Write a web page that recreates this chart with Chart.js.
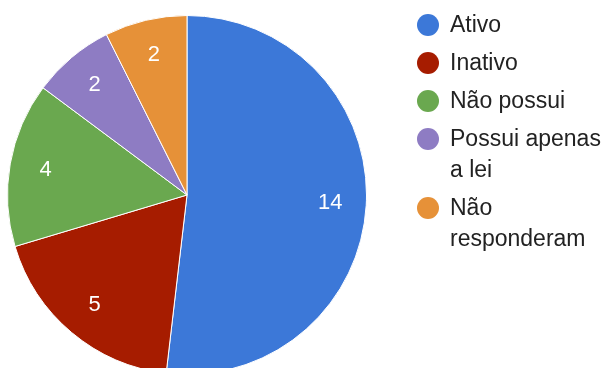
<!DOCTYPE html>
<html>
<head>
<meta charset="UTF-8">
<title>Situação</title>
<style>
  body { margin: 0; width: 606px; height: 368px; overflow: hidden; background: #fff; font-family: Arial, "Liberation Sans", sans-serif; }
  .chartBox { position: absolute; left: 0; top: 0; width: 606px; height: 390px; }
  #legenda { position: absolute; left: 417px; top: 9px; list-style: none; margin: 0; padding: 0; }
  #legenda li { position: relative; padding-left: 33px; font-size: 23px; line-height: 31px; color: #222; margin-bottom: 7px; width: 156px; }
  #legenda li span { position: absolute; left: 0; top: 4.5px; width: 22px; height: 22px; border-radius: 50%; }
</style>
</head>
<body>
  <div class="chartBox"><canvas id="myChart"></canvas></div>
  <ul id="legenda"></ul>

  <script src="https://cdn.jsdelivr.net/npm/chart.js"></script>
  <script>
// dados
const categorias = ['Ativo', 'Inativo', 'Não possui', 'Possui apenas a lei', 'Não responderam'];
const respostas = [14, 5, 4, 2, 2];
const cores = ['#3c78d8', '#a61c00', '#6aa84f', '#8e7cc3', '#e69138'];

// numeros dentro das fatias
const rotulos = {
  id: 'rotulos',
  afterDatasetsDraw(chart) {
    const ctx = chart.ctx;
    const meta = chart.getDatasetMeta(0);
    ctx.save();
    ctx.fillStyle = '#fff';
    ctx.font = '22px Arial, "Liberation Sans", sans-serif';
    ctx.textAlign = 'center';
    ctx.textBaseline = 'middle';
    meta.data.forEach((arc, i) => {
      const p = arc.getProps(['x', 'y', 'startAngle', 'endAngle', 'outerRadius'], true);
      const meio = (p.startAngle + p.endAngle) / 2;
      const r = p.outerRadius * 0.8;
      ctx.fillText(respostas[i], p.x + Math.cos(meio) * r, p.y + Math.sin(meio) * r);
    });
    ctx.restore();
  }
};

const myChart = new Chart(document.getElementById('myChart'), {
  type: 'pie',
  data: {
    labels: categorias,
    datasets: [{
      data: respostas,
      backgroundColor: cores,
      borderColor: '#fff',
      borderWidth: 1
    }]
  },
  options: {
    responsive: true,
    maintainAspectRatio: false,
    animation: false,
    layout: { padding: { left: 7, right: 239, top: 15, bottom: 15 } },
    plugins: { legend: { display: false }, tooltip: { enabled: false } }
  },
  plugins: [rotulos]
});

// legenda em html
let html = '';
categorias.forEach((c, i) => {
  html += `<li><span style="background:${cores[i]}"></span>${c}</li>`;
});
document.getElementById('legenda').innerHTML = html;
  </script>
</body>
</html>
